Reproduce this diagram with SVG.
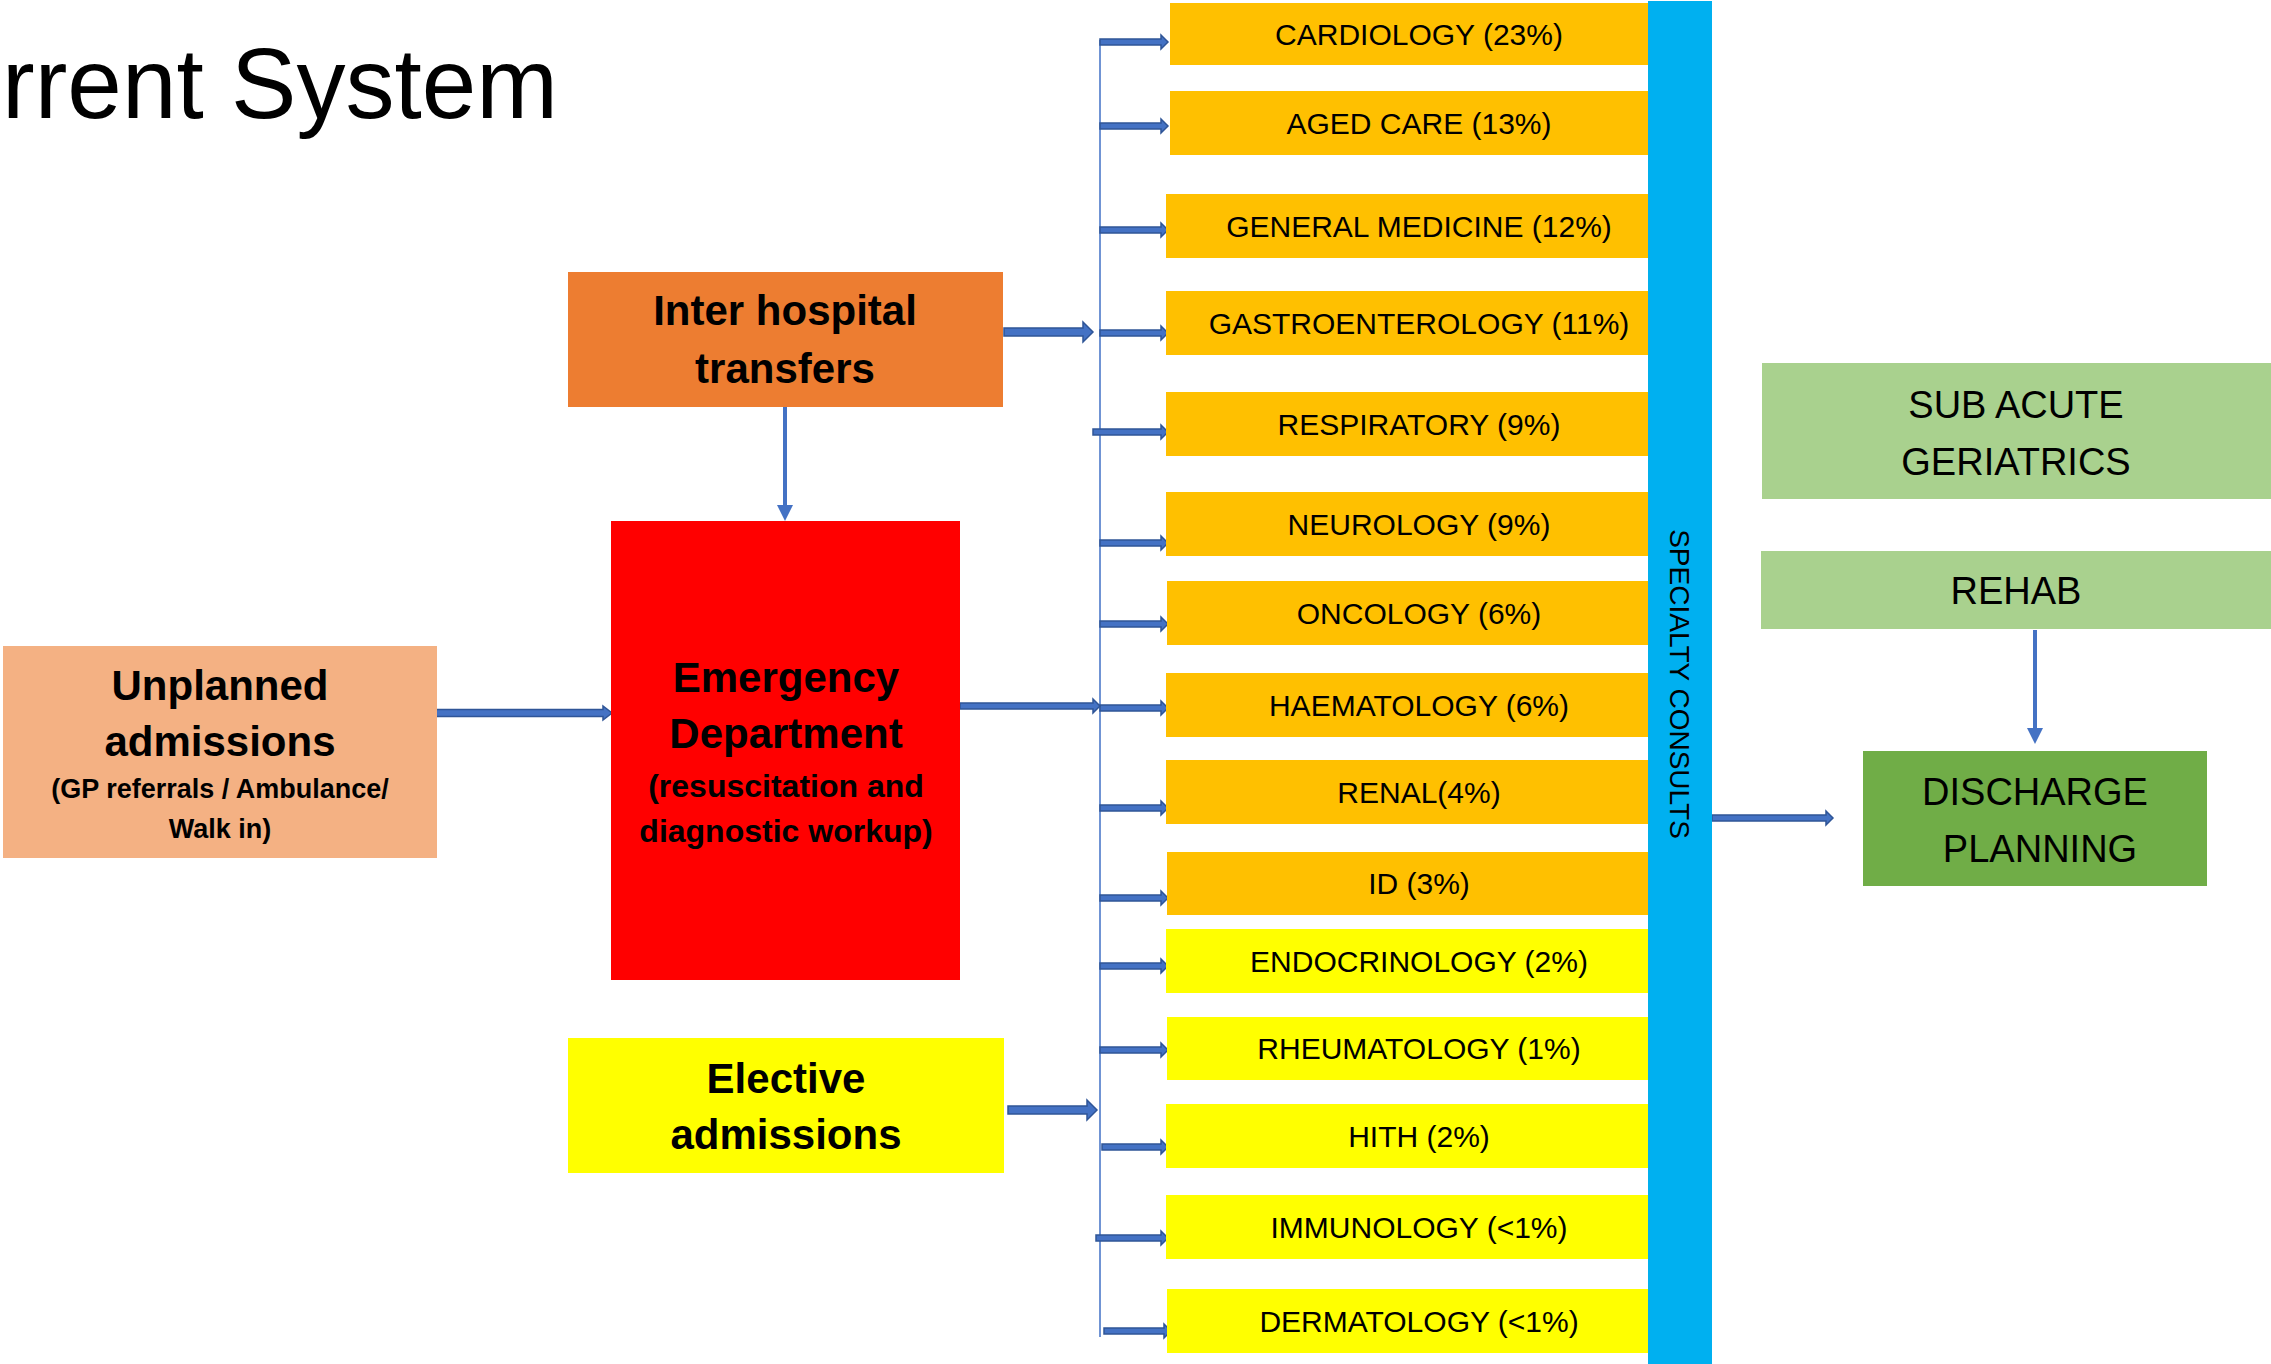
<svg xmlns="http://www.w3.org/2000/svg" width="2271" height="1364" viewBox="0 0 2271 1364">
<style>
text{font-family:"Liberation Sans",Arial,sans-serif;fill:#000}
.b{font-weight:bold;text-anchor:middle}
.h{font-size:42px}
.sub{font-size:32px}
.sub2{font-size:27px}
.sp{font-size:30px;text-anchor:middle}
.g{font-size:38px;text-anchor:middle}
.orange{fill:#FFC000}
.yellow{fill:#FFFF00}
.arr{fill:#4472C4;stroke:#2F5597;stroke-width:1.5}
.dn{stroke:#4472C4;stroke-width:4;fill:none}
.head{fill:#4472C4}
</style>
<rect width="2271" height="1364" fill="#fff"/>
<g id="title"><text x="2" y="118" font-size="100" textLength="556" lengthAdjust="spacingAndGlyphs">rrent System</text></g>

<g id="connectors">
  <line x1="1100" y1="40" x2="1100" y2="1337" stroke="#7094D4" stroke-width="2"/>
  <path class="arr" d="M1100,39 h61 v-4 l7,7 l-7,7 v-4 h-61 z"/>
  <path class="arr" d="M1100,123 h61 v-4 l7,7 l-7,7 v-4 h-61 z"/>
  <path class="arr" d="M1100,227 h61 v-4 l7,7 l-7,7 v-4 h-61 z"/>
  <path class="arr" d="M1100,330 h61 v-4 l7,7 l-7,7 v-4 h-61 z"/>
  <path class="arr" d="M1093,429 h68 v-4 l7,7 l-7,7 v-4 h-68 z"/>
  <path class="arr" d="M1100,540 h61 v-4 l7,7 l-7,7 v-4 h-61 z"/>
  <path class="arr" d="M1100,621 h61 v-4 l7,7 l-7,7 v-4 h-61 z"/>
  <path class="arr" d="M1100,705 h61 v-4 l7,7 l-7,7 v-4 h-61 z"/>
  <path class="arr" d="M1100,805 h61 v-4 l7,7 l-7,7 v-4 h-61 z"/>
  <path class="arr" d="M1100,895 h61 v-4 l7,7 l-7,7 v-4 h-61 z"/>
  <path class="arr" d="M1100,963 h61 v-4 l7,7 l-7,7 v-4 h-61 z"/>
  <path class="arr" d="M1100,1047 h61 v-4 l7,7 l-7,7 v-4 h-61 z"/>
  <path class="arr" d="M1102,1144 h59 v-4 l7,7 l-7,7 v-4 h-59 z"/>
  <path class="arr" d="M1096,1235 h65 v-4 l7,7 l-7,7 v-4 h-65 z"/>
  <path class="arr" d="M1104,1328 h60 v-4 l7,7 l-7,7 v-4 h-60 z"/>
  <path class="arr" d="M1004,328 h79 v-6 l10,10 l-10,10 v-6 h-79 z"/>
  <path class="arr" d="M1008,1106 h79 v-6 l10,10 l-10,10 v-6 h-79 z"/>
  <path class="arr" d="M960,703 h133 v-4 l7,7 l-7,7 v-4 h-133 z"/>
  <path class="arr" d="M436,709.5 h167 v-3.5 l9,7 l-9,7 v-3.5 h-167 z"/>
  <path class="arr" d="M1712,815 h114 v-4 l7,7 l-7,7 v-4 h-114 z"/>
  <line class="dn" x1="785" y1="407" x2="785" y2="506"/>
  <polygon class="head" points="777,505 793,505 785,521"/>
  <line class="dn" x1="2035" y1="630" x2="2035" y2="729"/>
  <polygon class="head" points="2027,728 2043,728 2035,744"/>
</g>

<g id="unplanned">
  <rect x="3" y="646" width="434" height="212" fill="#F4B183"/>
  <text class="b h" x="220" y="700">Unplanned</text>
  <text class="b h" x="220" y="756">admissions</text>
  <text class="b sub2" x="220" y="798">(GP referrals / Ambulance/</text>
  <text class="b sub2" x="220" y="838">Walk in)</text>
</g>
<g id="interhospital">
  <rect x="568" y="272" width="435" height="135" fill="#ED7D31"/>
  <text class="b h" x="785" y="325">Inter hospital</text>
  <text class="b h" x="785" y="383">transfers</text>
</g>
<g id="emergency">
  <rect x="611" y="521" width="349" height="459" fill="#FF0000"/>
  <text class="b h" x="786" y="692">Emergency</text>
  <text class="b h" x="786" y="748">Department</text>
  <text class="b sub" x="786" y="797">(resuscitation and</text>
  <text class="b sub" x="786" y="842">diagnostic workup)</text>
</g>
<g id="elective">
  <rect x="568" y="1038" width="436" height="135" fill="#FFFF00"/>
  <text class="b h" x="786" y="1093">Elective</text>
  <text class="b h" x="786" y="1149">admissions</text>
</g>

<g id="cardiology"><rect class="orange" x="1170" y="3" width="478" height="62"/><text class="sp" x="1419" y="45">CARDIOLOGY (23%)</text></g>
<g id="agedcare"><rect class="orange" x="1170" y="91" width="478" height="64"/><text class="sp" x="1419" y="134">AGED CARE (13%)</text></g>
<g id="genmed"><rect class="orange" x="1166" y="194" width="482" height="64"/><text class="sp" x="1419" y="237">GENERAL MEDICINE (12%)</text></g>
<g id="gastro"><rect class="orange" x="1166" y="291" width="482" height="64"/><text class="sp" x="1419" y="334">GASTROENTEROLOGY (11%)</text></g>
<g id="respiratory"><rect class="orange" x="1166" y="392" width="482" height="64"/><text class="sp" x="1419" y="435">RESPIRATORY (9%)</text></g>
<g id="neurology"><rect class="orange" x="1166" y="492" width="482" height="64"/><text class="sp" x="1419" y="535">NEUROLOGY (9%)</text></g>
<g id="oncology"><rect class="orange" x="1167" y="581" width="481" height="64"/><text class="sp" x="1419" y="624">ONCOLOGY (6%)</text></g>
<g id="haematology"><rect class="orange" x="1166" y="673" width="482" height="64"/><text class="sp" x="1419" y="716">HAEMATOLOGY (6%)</text></g>
<g id="renal"><rect class="orange" x="1166" y="760" width="482" height="64"/><text class="sp" x="1419" y="803">RENAL(4%)</text></g>
<g id="id"><rect class="orange" x="1167" y="852" width="481" height="63"/><text class="sp" x="1419" y="894">ID (3%)</text></g>
<g id="endocrinology"><rect class="yellow" x="1166" y="929" width="482" height="64"/><text class="sp" x="1419" y="972">ENDOCRINOLOGY (2%)</text></g>
<g id="rheumatology"><rect class="yellow" x="1167" y="1017" width="481" height="63"/><text class="sp" x="1419" y="1059">RHEUMATOLOGY (1%)</text></g>
<g id="hith"><rect class="yellow" x="1166" y="1104" width="482" height="64"/><text class="sp" x="1419" y="1147">HITH (2%)</text></g>
<g id="immunology"><rect class="yellow" x="1166" y="1195" width="482" height="64"/><text class="sp" x="1419" y="1238">IMMUNOLOGY (&lt;1%)</text></g>
<g id="dermatology"><rect class="yellow" x="1167" y="1289" width="481" height="64"/><text class="sp" x="1419" y="1332">DERMATOLOGY (&lt;1%)</text></g>

<g id="specialty-consults">
  <rect x="1648" y="1" width="64" height="1363" fill="#00B0F0"/>
  <text x="0" y="10" font-size="28" text-anchor="middle" transform="translate(1680,684) rotate(90)">SPECIALTY CONSULTS</text>
</g>

<g id="subacute">
  <rect x="1762" y="363" width="509" height="136" fill="#A9D18E"/>
  <text class="g" x="2016" y="418">SUB ACUTE</text>
  <text class="g" x="2016" y="475">GERIATRICS</text>
</g>
<g id="rehab">
  <rect x="1761" y="551" width="510" height="78" fill="#A9D18E"/>
  <text class="g" x="2016" y="604">REHAB</text>
</g>
<g id="discharge">
  <rect x="1863" y="751" width="344" height="135" fill="#70AD47"/>
  <text class="g" x="2035" y="805">DISCHARGE</text>
  <text class="g" x="2040" y="862">PLANNING</text>
</g>
</svg>
